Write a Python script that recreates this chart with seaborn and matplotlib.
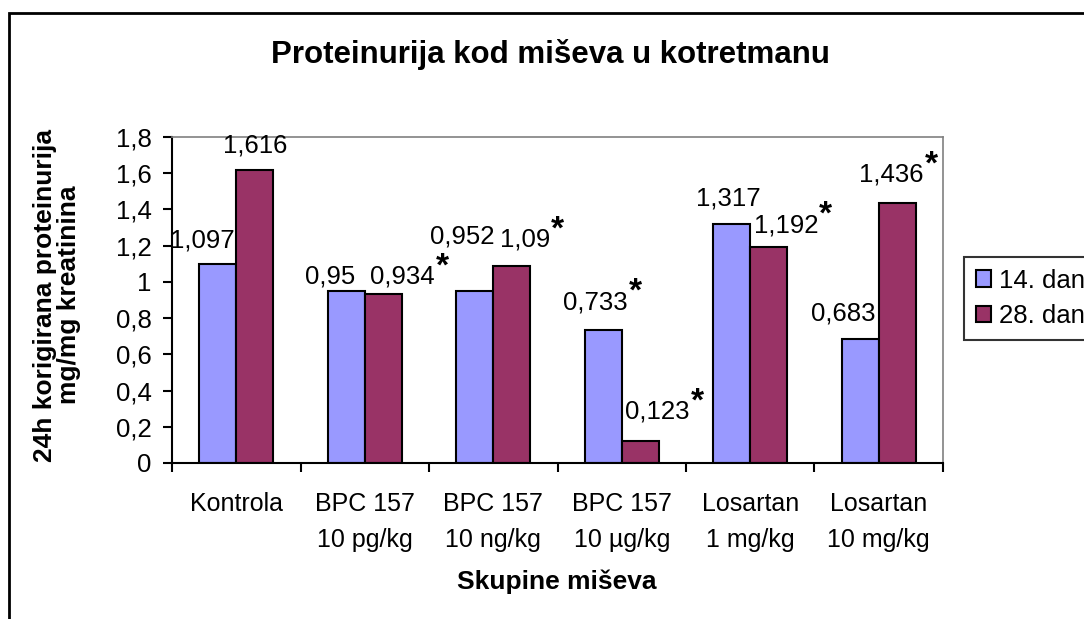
import pandas as pd
import matplotlib.pyplot as plt
import matplotlib.patches as mpatches
from matplotlib.ticker import FuncFormatter
import seaborn as sns

# Data
groups = ["Kontrola", "BPC 157\n10 pg/kg", "BPC 157\n10 ng/kg", "BPC 157\n10 µg/kg",
          "Losartan\n1 mg/kg", "Losartan\n10 mg/kg"]
day14 = [1.097, 0.95, 0.952, 0.733, 1.317, 0.683]
day28 = [1.616, 0.934, 1.09, 0.123, 1.192, 1.436]
star14 = [False, False, False, True, False, False]
star28 = [False, True, True, True, True, True]
series = ["14. dan", "28. dan"]

# label offsets (pixels from bar top centre), as placed in the original
off14 = [(-15, 24), (-16, 14), (-12, 54), (-8, 28), (-3, 26), (-17, 26)]
off28 = [(0, 25), (19, 17), (13, 26), (17, 29), (17, 22), (-6, 28)]

df = pd.DataFrame({
    "group": groups * 2,
    "value": day14 + day28,
    "series": [series[0]] * 6 + [series[1]] * 6,
})

sns.set_style("ticks")
plt.rcParams["font.family"] = ["Liberation Sans", "DejaVu Sans"]
plt.rcParams.update({"text.color": "black", "axes.labelcolor": "black",
                     "xtick.color": "black", "ytick.color": "black"})

fig = plt.figure(figsize=(10.84, 6.19), dpi=100)
ax = fig.add_axes([172 / 1084, 1 - 463 / 619, (943 - 172) / 1084, (463 - 137) / 619])

sns.barplot(data=df, x="group", y="value", hue="series", order=groups,
            palette=["#9999FF", "#993366"], width=0.576, gap=0,
            edgecolor="black", linewidth=1.5, saturation=1, ax=ax, legend=True)

ax.set_xlim(-0.5, 5.5)
ax.set_ylim(0, 1.8)
ax.set_yticks([i * 0.2 for i in range(10)])
ax.yaxis.set_major_formatter(FuncFormatter(lambda v, p: f"{v:g}".replace(".", ",")))
ax.tick_params(axis="y", labelsize=18.5, length=6.5, width=1.5, color="black", pad=8)

# category boundaries as ticks, names on minor ticks
ax.set_xticks([i - 0.5 for i in range(7)])
ax.set_xticklabels([])
ax.set_xticks(range(6), minor=True)
ax.set_xticklabels(groups, minor=True, fontsize=18, linespacing=1.62)
ax.tick_params(axis="x", which="major", length=6.5, width=1.5, color="black")
ax.tick_params(axis="x", which="minor", length=0, pad=21)
ax.set_xlabel("")
ax.set_ylabel("")

for s in ["left", "bottom"]:
    ax.spines[s].set_color("black")
    ax.spines[s].set_linewidth(1.5)
for s in ["top", "right"]:
    ax.spines[s].set_visible(True)
    ax.spines[s].set_color("#808080")
    ax.spines[s].set_linewidth(1.2)

# data labels
bw = 0.576 / 2
for vals, offs, stars, dx0 in [(day14, off14, star14, -bw / 2), (day28, off28, star28, bw / 2)]:
    for i, (v, (ox, oy), st) in enumerate(zip(vals, offs, stars)):
        lab = f"{v:g}".replace(".", ",")
        t = ax.annotate(lab, xy=(i + dx0, v), xytext=(ox, oy), textcoords="offset pixels",
                        ha="center", va="center", fontsize=18.5)
        if st:
            ax.annotate("*", xy=(1, 0.5), xycoords=t, xytext=(1, 10),
                        textcoords="offset pixels", ha="left", va="center",
                        fontsize=24, fontweight="bold")

# legend
ax.get_legend().remove()
handles = [mpatches.Rectangle((0, 0), 1, 1, facecolor=c, edgecolor="black", linewidth=1.5)
           for c in ["#9999FF", "#993366"]]
leg = fig.legend(handles, series, loc="upper left", bbox_to_anchor=(964 / 1084, 1 - 257 / 619),
                 fontsize=18.5, frameon=True, fancybox=False, edgecolor="black",
                 handlelength=0.6, handleheight=0.6, handletextpad=0.32,
                 labelspacing=0.45, borderpad=0.45, borderaxespad=0)
leg.get_frame().set_linewidth(1.5)

# titles
fig.text(550 / 1084, 1 - 55 / 619, "Proteinurija kod miševa u kotretmanu",
         ha="center", va="center", fontsize=22.5, fontweight="bold")
fig.text(57 / 1084, 1 - 295 / 619, "24h korigirana proteinurija\nmg/mg kreatinina",
         ha="center", va="center", rotation=90, fontsize=19, fontweight="bold",
         multialignment="center", linespacing=1.0)
fig.text(557 / 1084, 1 - 582 / 619, "Skupine miševa",
         ha="center", va="center", fontsize=19, fontweight="bold")

# outer chart border
fig.patches.append(mpatches.Rectangle((9 / 1084, -0.1), 2, 0.1 + (619 - 13) / 619,
                                      transform=fig.transFigure, fill=False,
                                      edgecolor="black", linewidth=2))

fig.savefig("out.png", dpi=100)
